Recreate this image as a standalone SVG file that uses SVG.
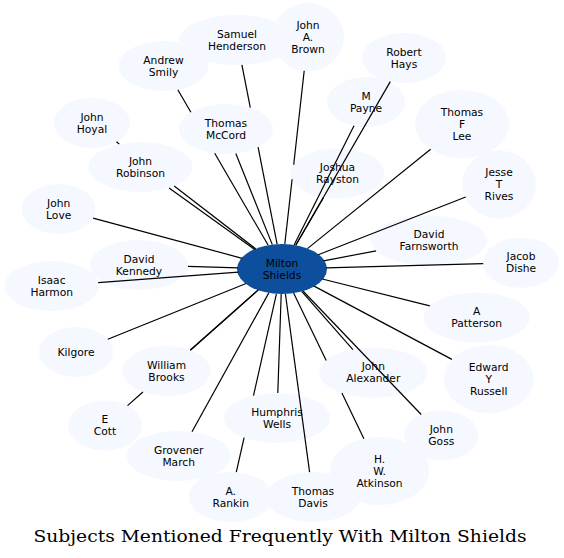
<svg xmlns="http://www.w3.org/2000/svg" width="564" height="558" viewBox="0 0 564 558">
<style>
.n{fill:#f5f8fe;stroke:none}
.c{fill:#0d4f9d;stroke:none}
.t{font-family:"DejaVu Sans","Liberation Sans",sans-serif;font-size:10.7px;fill:#000;text-anchor:middle}
.e line{stroke:#000;stroke-width:1.2}
.title{font-family:"DejaVu Serif","Liberation Serif",serif;font-size:16px;fill:#000;text-anchor:middle}
</style>
<rect width="564" height="558" fill="#fff"/>
<g id="nodes">
<g id="n-samuel-henderson"><ellipse class="n" cx="237" cy="40" rx="58" ry="25"/><text class="t" x="237" y="37.5">Samuel<tspan x="237" dy="12">Henderson</tspan></text></g>
<g id="n-john-a-brown"><ellipse class="n" cx="308" cy="37" rx="36" ry="34"/><text class="t" x="308" y="29">John<tspan x="308" dy="12">A.</tspan><tspan x="308" dy="12">Brown</tspan></text></g>
<g id="n-andrew-smily"><ellipse class="n" cx="163.5" cy="66" rx="45" ry="25"/><text class="t" x="163.5" y="63.5">Andrew<tspan x="163.5" dy="12">Smily</tspan></text></g>
<g id="n-robert-hays"><ellipse class="n" cx="404" cy="58" rx="42" ry="25"/><text class="t" x="404" y="55.5">Robert<tspan x="404" dy="12">Hays</tspan></text></g>
<g id="n-m-payne"><ellipse class="n" cx="366" cy="102" rx="39" ry="25"/><text class="t" x="366" y="99.5">M<tspan x="366" dy="12">Payne</tspan></text></g>
<g id="n-thomas-f-lee"><ellipse class="n" cx="462" cy="124" rx="47" ry="34"/><text class="t" x="462" y="115.5">Thomas<tspan x="462" dy="12">F</tspan><tspan x="462" dy="12">Lee</tspan></text></g>
<g id="n-john-hoyal"><ellipse class="n" cx="92" cy="123" rx="38" ry="25"/><text class="t" x="92" y="120.5">John<tspan x="92" dy="12">Hoyal</tspan></text></g>
<g id="n-thomas-mccord"><ellipse class="n" cx="226" cy="129" rx="47" ry="25"/><text class="t" x="226" y="126.5">Thomas<tspan x="226" dy="12">McCord</tspan></text></g>
<g id="n-john-robinson"><ellipse class="n" cx="140.5" cy="167" rx="52" ry="25"/><text class="t" x="140.5" y="164.5">John<tspan x="140.5" dy="12">Robinson</tspan></text></g>
<g id="n-joshua-rayston"><ellipse class="n" cx="337.5" cy="173.5" rx="47" ry="25"/><text class="t" x="337.5" y="171">Joshua<tspan x="337.5" dy="12">Rayston</tspan></text></g>
<g id="n-jesse-t-rives"><ellipse class="n" cx="499" cy="184.5" rx="37" ry="34"/><text class="t" x="499" y="176">Jesse<tspan x="499" dy="12">T</tspan><tspan x="499" dy="12">Rives</tspan></text></g>
<g id="n-john-love"><ellipse class="n" cx="58.7" cy="209" rx="37" ry="25"/><text class="t" x="58.7" y="206.5">John<tspan x="58.7" dy="12">Love</tspan></text></g>
<g id="n-david-farnsworth"><ellipse class="n" cx="429" cy="240.5" rx="58" ry="25"/><text class="t" x="429" y="238">David<tspan x="429" dy="12">Farnsworth</tspan></text></g>
<g id="n-david-kennedy"><ellipse class="n" cx="139" cy="265" rx="49" ry="25"/><text class="t" x="139" y="262.5">David<tspan x="139" dy="12">Kennedy</tspan></text></g>
<g id="n-jacob-dishe"><ellipse class="n" cx="521" cy="262.7" rx="38" ry="25"/><text class="t" x="521" y="260.2">Jacob<tspan x="521" dy="12">Dishe</tspan></text></g>
<g id="n-isaac-harmon"><ellipse class="n" cx="51.7" cy="286" rx="47" ry="25"/><text class="t" x="51.7" y="283.5">Isaac<tspan x="51.7" dy="12">Harmon</tspan></text></g>
<g id="n-a-patterson"><ellipse class="n" cx="476.7" cy="317.5" rx="53" ry="25"/><text class="t" x="476.7" y="315">A<tspan x="476.7" dy="12">Patterson</tspan></text></g>
<g id="n-kilgore"><ellipse class="n" cx="76" cy="352" rx="37" ry="25"/><text class="t" x="76" y="355.5">Kilgore</text></g>
<g id="n-william-brooks"><ellipse class="n" cx="166.5" cy="371" rx="44" ry="25"/><text class="t" x="166.5" y="368.5">William<tspan x="166.5" dy="12">Brooks</tspan></text></g>
<g id="n-john-alexander"><ellipse class="n" cx="373.3" cy="372.7" rx="54" ry="25"/><text class="t" x="373.3" y="370.2">John<tspan x="373.3" dy="12">Alexander</tspan></text></g>
<g id="n-edward-y-russell"><ellipse class="n" cx="488.7" cy="379" rx="45" ry="34"/><text class="t" x="488.7" y="370.5">Edward<tspan x="488.7" dy="12">Y</tspan><tspan x="488.7" dy="12">Russell</tspan></text></g>
<g id="n-humphris-wells"><ellipse class="n" cx="277" cy="418" rx="53" ry="25"/><text class="t" x="277" y="415.5">Humphris<tspan x="277" dy="12">Wells</tspan></text></g>
<g id="n-e-cott"><ellipse class="n" cx="105" cy="425.5" rx="37" ry="25"/><text class="t" x="105" y="423">E<tspan x="105" dy="12">Cott</tspan></text></g>
<g id="n-john-goss"><ellipse class="n" cx="441.3" cy="435.5" rx="37" ry="25"/><text class="t" x="441.3" y="433">John<tspan x="441.3" dy="12">Goss</tspan></text></g>
<g id="n-grovener-march"><ellipse class="n" cx="178.7" cy="456" rx="52" ry="25"/><text class="t" x="178.7" y="453.5">Grovener<tspan x="178.7" dy="12">March</tspan></text></g>
<g id="n-h-w-atkinson"><ellipse class="n" cx="379.5" cy="471" rx="49.5" ry="34"/><text class="t" x="379.5" y="462.5">H.<tspan x="379.5" dy="12">W.</tspan><tspan x="379.5" dy="12">Atkinson</tspan></text></g>
<g id="n-a-rankin"><ellipse class="n" cx="230.7" cy="497" rx="42" ry="25"/><text class="t" x="230.7" y="494.5">A.<tspan x="230.7" dy="12">Rankin</tspan></text></g>
<g id="n-thomas-davis"><ellipse class="n" cx="313" cy="497" rx="47" ry="25"/><text class="t" x="313" y="494.5">Thomas<tspan x="313" dy="12">Davis</tspan></text></g>
<g id="n-milton-shields"><ellipse class="c" cx="282" cy="269" rx="45" ry="25"/><text class="t" x="282" y="266.5">Milton<tspan x="282" dy="12">Shields</tspan></text></g>
</g>
<g id="connectors" class="e">
<line x1="277.1" y1="244.2" x2="258.1" y2="147.2"/><line x1="250.3" y1="107.6" x2="241.9" y2="64.9"/>
<line x1="268.2" y1="245.3" x2="214.7" y2="153.3"/><line x1="190.9" y1="112.3" x2="177.8" y2="89.8"/>
<line x1="272.3" y1="244.6" x2="235.8" y2="153.5"/>
<line x1="284.8" y1="244.1" x2="292.1" y2="179.2"/><line x1="293.7" y1="164.8" x2="304.2" y2="70.8"/>
<line x1="295.7" y1="245.2" x2="390.3" y2="81.6"/>
<line x1="294.1" y1="245.0" x2="354.0" y2="125.8"/>
<line x1="307.4" y1="248.6" x2="430.6" y2="149.3"/>
<line x1="318.2" y1="254.8" x2="465.7" y2="197.0"/>
<line x1="295.8" y1="245.3" x2="323.6" y2="197.4"/>
<line x1="255.8" y1="248.9" x2="174.2" y2="186.1"/><line x1="119.2" y1="143.9" x2="116.4" y2="141.8"/>
<line x1="254.7" y1="249.4" x2="169.1" y2="187.9"/>
<line x1="242.2" y1="258.3" x2="93.1" y2="218.2"/>
<line x1="238.1" y1="267.8" x2="187.9" y2="266.4"/>
<line x1="238.4" y1="272.2" x2="98.2" y2="282.6"/>
<line x1="246.1" y1="283.5" x2="107.8" y2="339.2"/>
<line x1="258.6" y1="289.6" x2="190.3" y2="350.0"/>
<line x1="257.8" y1="290.4" x2="190.4" y2="350.4"/><line x1="142.9" y1="392.0" x2="127.5" y2="405.6"/>
<line x1="268.8" y1="292.9" x2="192.0" y2="431.8"/>
<line x1="281.2" y1="294.0" x2="277.8" y2="393.0"/>
<line x1="276.4" y1="293.8" x2="253.5" y2="395.6"/><line x1="244.1" y1="437.6" x2="236.3" y2="472.2"/>
<line x1="285.4" y1="293.9" x2="309.6" y2="472.1"/>
<line x1="301.7" y1="291.4" x2="352.9" y2="349.6"/>
<line x1="293.6" y1="293.1" x2="326.2" y2="360.5"/><line x1="341.9" y1="393.0" x2="363.9" y2="438.7"/>
<line x1="303.0" y1="291.0" x2="421.2" y2="414.5"/>
<line x1="314.1" y1="286.1" x2="451.9" y2="359.4"/>
<line x1="322.3" y1="279.0" x2="429.8" y2="305.8"/>
<line x1="326.0" y1="267.8" x2="483.2" y2="263.7"/>
<line x1="323.6" y1="260.9" x2="376.1" y2="250.8"/>
</g>
<text class="title" x="280" y="541.7" textLength="493" lengthAdjust="spacingAndGlyphs">Subjects Mentioned Frequently With Milton Shields</text>
</svg>
